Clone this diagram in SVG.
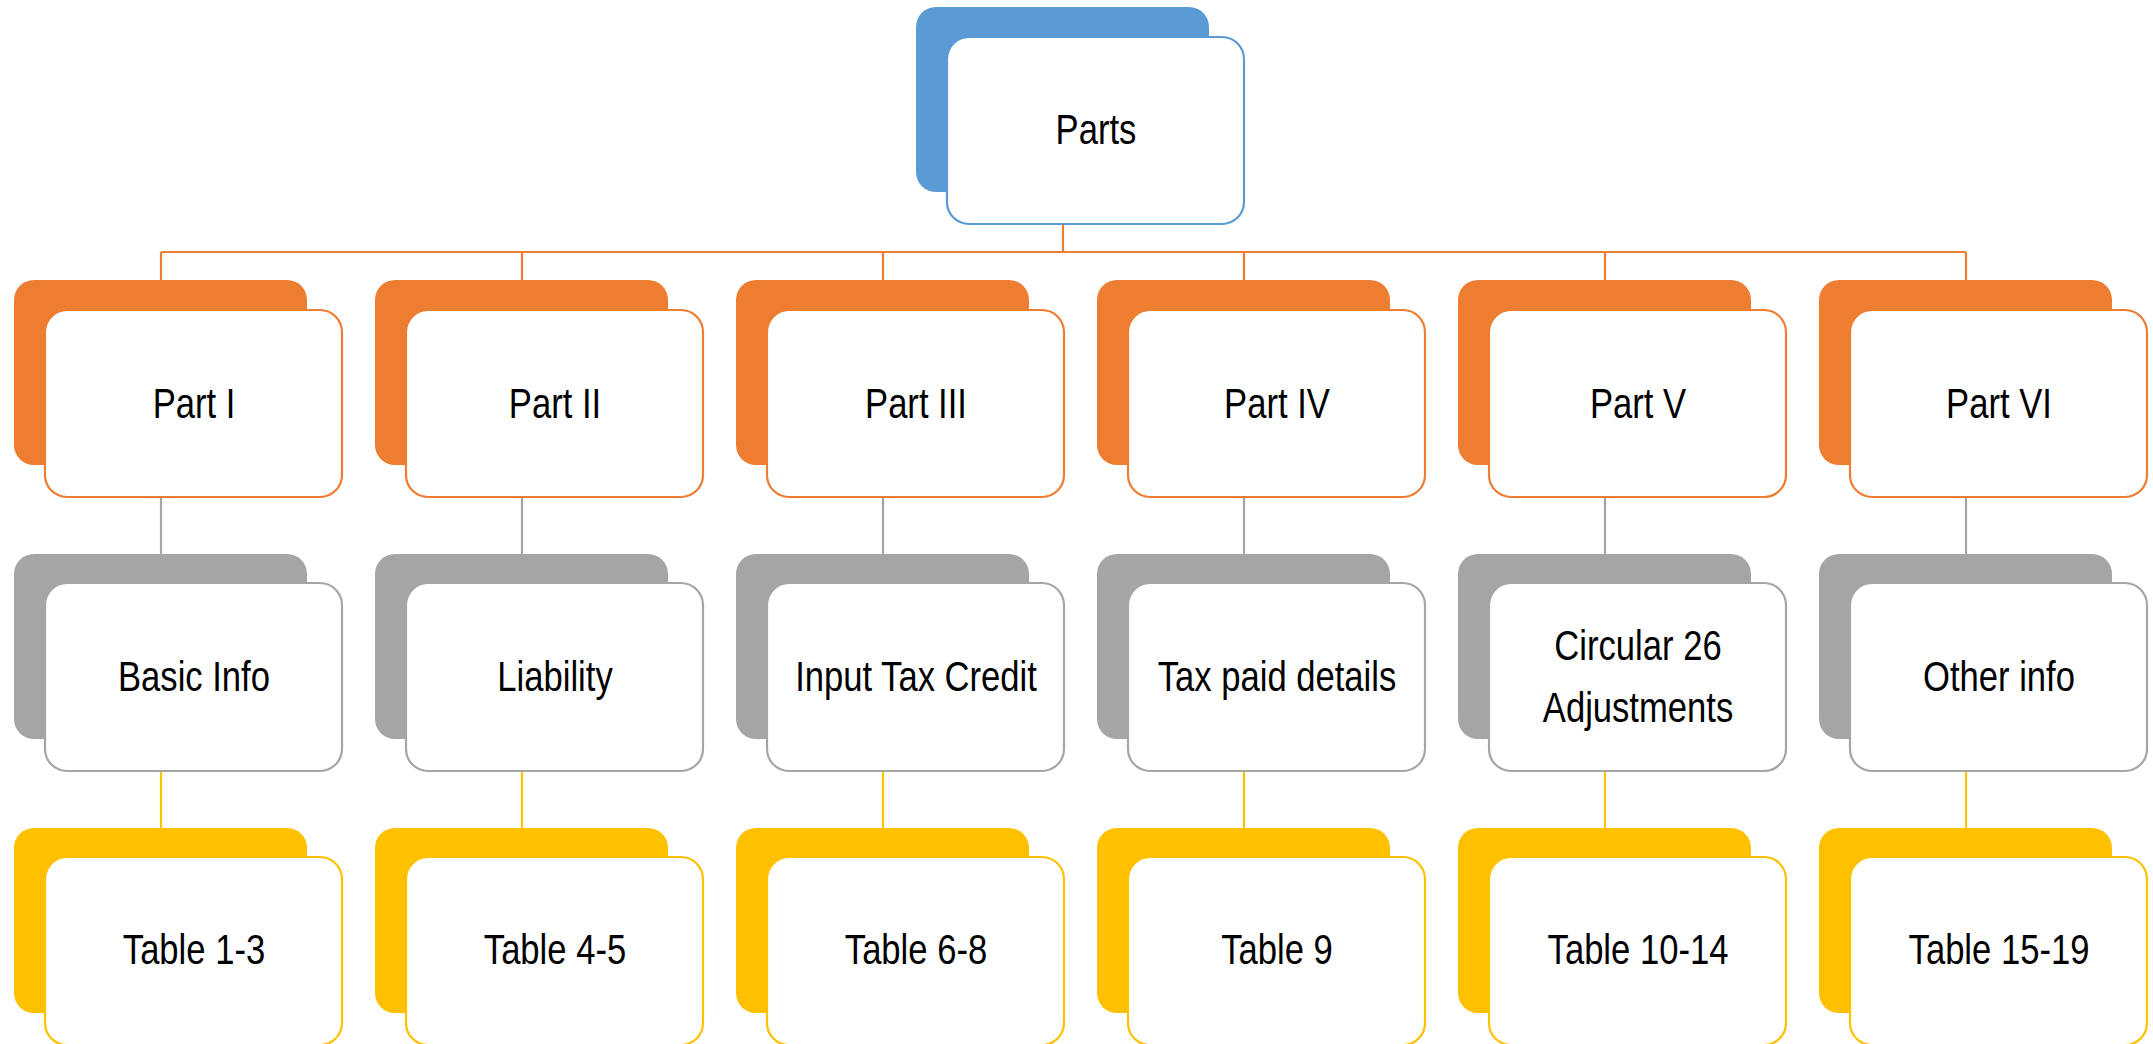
<svg xmlns="http://www.w3.org/2000/svg" width="2153" height="1044" viewBox="0 0 2153 1044">
  <style>
    .back { stroke: none; }
    .front { fill: #ffffff; stroke-width: 2.2; }
    .lbl { font-family: "Liberation Sans", Arial, sans-serif; font-size: 43px; fill: #000000; text-anchor: middle; }
    .blue .back { fill: #5B9BD5; } .blue .front { stroke: #5B9BD5; }
    .orange .back { fill: #ED7D31; } .orange .front { stroke: #ED7D31; }
    .gray .back { fill: #A5A5A5; } .gray .front { stroke: #A5A5A5; }
    .yellow .back { fill: #FFC000; } .yellow .front { stroke: #FFC000; }
    .ln { fill: none; stroke-width: 2.2; }
    .ln-orange { stroke: #ED7D31; }
    .ln-gray { stroke: #A5A5A5; }
    .ln-yellow { stroke: #FFC000; }
  </style>
  <rect width="2153" height="1044" fill="#ffffff"/>

  <g id="connectors">
    <path class="ln ln-orange" d="M1063 223 V252 M161 252 H1966 M161 252 V280 M522 252 V280 M883 252 V280 M1244 252 V280 M1605 252 V280 M1966 252 V280"/>
    <path class="ln ln-gray" d="M161 498 V554 M522 498 V554 M883 498 V554 M1244 498 V554 M1605 498 V554 M1966 498 V554"/>
    <path class="ln ln-yellow" d="M161 771 V828 M522 771 V828 M883 771 V828 M1244 771 V828 M1605 771 V828 M1966 771 V828"/>
  </g>

  <!-- each card: filled back plate plus outlined front face; origin = column centre, back top -->
  <g id="parts" class="blue" transform="translate(1063,7)">
    <rect class="back" x="-147" y="0" width="293" height="185" rx="20"/>
    <rect class="front" x="-116" y="30" width="297" height="187" rx="22"/>
    <g transform="translate(33,137) scale(0.805,1)"><text class="lbl">Parts</text></g>
  </g>

  <!-- level 1: parts -->
  <g id="part1" class="orange" transform="translate(161,280)">
    <rect class="back" x="-147" y="0" width="293" height="185" rx="20"/>
    <rect class="front" x="-116" y="30" width="297" height="187" rx="22"/>
    <g transform="translate(33,138) scale(0.805,1)"><text class="lbl">Part I</text></g>
  </g>
  <g id="part2" class="orange" transform="translate(522,280)">
    <rect class="back" x="-147" y="0" width="293" height="185" rx="20"/>
    <rect class="front" x="-116" y="30" width="297" height="187" rx="22"/>
    <g transform="translate(33,138) scale(0.805,1)"><text class="lbl">Part II</text></g>
  </g>
  <g id="part3" class="orange" transform="translate(883,280)">
    <rect class="back" x="-147" y="0" width="293" height="185" rx="20"/>
    <rect class="front" x="-116" y="30" width="297" height="187" rx="22"/>
    <g transform="translate(33,138) scale(0.805,1)"><text class="lbl">Part III</text></g>
  </g>
  <g id="part4" class="orange" transform="translate(1244,280)">
    <rect class="back" x="-147" y="0" width="293" height="185" rx="20"/>
    <rect class="front" x="-116" y="30" width="297" height="187" rx="22"/>
    <g transform="translate(33,138) scale(0.805,1)"><text class="lbl">Part IV</text></g>
  </g>
  <g id="part5" class="orange" transform="translate(1605,280)">
    <rect class="back" x="-147" y="0" width="293" height="185" rx="20"/>
    <rect class="front" x="-116" y="30" width="297" height="187" rx="22"/>
    <g transform="translate(33,138) scale(0.805,1)"><text class="lbl">Part V</text></g>
  </g>
  <g id="part6" class="orange" transform="translate(1966,280)">
    <rect class="back" x="-147" y="0" width="293" height="185" rx="20"/>
    <rect class="front" x="-116" y="30" width="297" height="187" rx="22"/>
    <g transform="translate(33,138) scale(0.805,1)"><text class="lbl">Part VI</text></g>
  </g>

  <!-- level 2: contents -->
  <g id="basic-info" class="gray" transform="translate(161,554)">
    <rect class="back" x="-147" y="0" width="293" height="185" rx="20"/>
    <rect class="front" x="-116" y="29" width="297" height="188" rx="22"/>
    <g transform="translate(33,137) scale(0.805,1)"><text class="lbl">Basic Info</text></g>
  </g>
  <g id="liability" class="gray" transform="translate(522,554)">
    <rect class="back" x="-147" y="0" width="293" height="185" rx="20"/>
    <rect class="front" x="-116" y="29" width="297" height="188" rx="22"/>
    <g transform="translate(33,137) scale(0.805,1)"><text class="lbl">Liability</text></g>
  </g>
  <g id="itc" class="gray" transform="translate(883,554)">
    <rect class="back" x="-147" y="0" width="293" height="185" rx="20"/>
    <rect class="front" x="-116" y="29" width="297" height="188" rx="22"/>
    <g transform="translate(33,137) scale(0.805,1)"><text class="lbl">Input Tax Credit</text></g>
  </g>
  <g id="tax-paid" class="gray" transform="translate(1244,554)">
    <rect class="back" x="-147" y="0" width="293" height="185" rx="20"/>
    <rect class="front" x="-116" y="29" width="297" height="188" rx="22"/>
    <g transform="translate(33,137) scale(0.805,1)"><text class="lbl">Tax paid details</text></g>
  </g>
  <g id="circular" class="gray" transform="translate(1605,554)">
    <rect class="back" x="-147" y="0" width="293" height="185" rx="20"/>
    <rect class="front" x="-116" y="29" width="297" height="188" rx="22"/>
    <g transform="translate(33,106) scale(0.805,1)"><text class="lbl">Circular 26</text></g>
    <g transform="translate(33,168) scale(0.805,1)"><text class="lbl">Adjustments</text></g>
  </g>
  <g id="other-info" class="gray" transform="translate(1966,554)">
    <rect class="back" x="-147" y="0" width="293" height="185" rx="20"/>
    <rect class="front" x="-116" y="29" width="297" height="188" rx="22"/>
    <g transform="translate(33,137) scale(0.805,1)"><text class="lbl">Other info</text></g>
  </g>

  <!-- level 3: tables -->
  <g id="table1" class="yellow" transform="translate(161,828)">
    <rect class="back" x="-147" y="0" width="293" height="185" rx="20"/>
    <rect class="front" x="-116" y="29" width="297" height="188" rx="22"/>
    <g transform="translate(33,136) scale(0.805,1)"><text class="lbl">Table 1-3</text></g>
  </g>
  <g id="table2" class="yellow" transform="translate(522,828)">
    <rect class="back" x="-147" y="0" width="293" height="185" rx="20"/>
    <rect class="front" x="-116" y="29" width="297" height="188" rx="22"/>
    <g transform="translate(33,136) scale(0.805,1)"><text class="lbl">Table 4-5</text></g>
  </g>
  <g id="table3" class="yellow" transform="translate(883,828)">
    <rect class="back" x="-147" y="0" width="293" height="185" rx="20"/>
    <rect class="front" x="-116" y="29" width="297" height="188" rx="22"/>
    <g transform="translate(33,136) scale(0.805,1)"><text class="lbl">Table 6-8</text></g>
  </g>
  <g id="table4" class="yellow" transform="translate(1244,828)">
    <rect class="back" x="-147" y="0" width="293" height="185" rx="20"/>
    <rect class="front" x="-116" y="29" width="297" height="188" rx="22"/>
    <g transform="translate(33,136) scale(0.805,1)"><text class="lbl">Table 9</text></g>
  </g>
  <g id="table5" class="yellow" transform="translate(1605,828)">
    <rect class="back" x="-147" y="0" width="293" height="185" rx="20"/>
    <rect class="front" x="-116" y="29" width="297" height="188" rx="22"/>
    <g transform="translate(33,136) scale(0.805,1)"><text class="lbl">Table 10-14</text></g>
  </g>
  <g id="table6" class="yellow" transform="translate(1966,828)">
    <rect class="back" x="-147" y="0" width="293" height="185" rx="20"/>
    <rect class="front" x="-116" y="29" width="297" height="188" rx="22"/>
    <g transform="translate(33,136) scale(0.805,1)"><text class="lbl">Table 15-19</text></g>
  </g>
</svg>
